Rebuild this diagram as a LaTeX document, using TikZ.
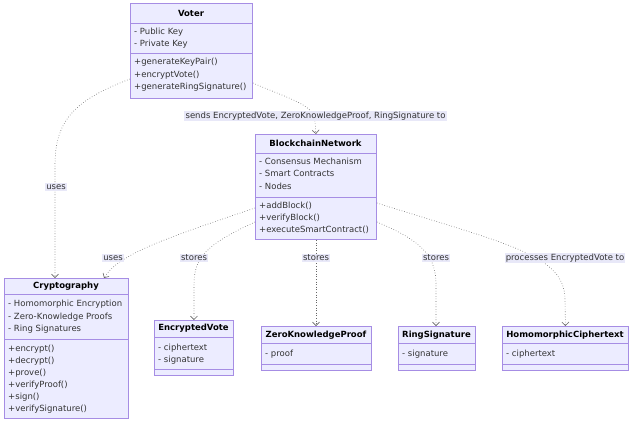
\documentclass[tikz,border=0pt]{standalone}
\usepackage{fontspec}
\setmainfont{DejaVu Sans}
\usetikzlibrary{arrows.meta,calc}
\definecolor{boxfill}{HTML}{ECECFF}
\definecolor{boxline}{HTML}{A68DE4}
\definecolor{txt}{HTML}{333333}
\definecolor{edgec}{HTML}{666666}
\definecolor{lblbg}{HTML}{E8E8F8}
\tikzset{
  cls/.style={draw=boxline, fill=boxfill, line width=0.9pt, inner sep=0pt, anchor=north west},
  divider/.style={draw=boxline, line width=0.9pt},
  ttl/.style={font=\fontsize{8.5}{10}\selectfont\bfseries, inner sep=0pt, text=black},
  itm/.style={font=\fontsize{8.5}{10}\selectfont, inner sep=0pt, text=txt, anchor=mid west},
  rel/.style={draw=edgec, dotted, line width=0.6pt, -{Straight Barb[length=3.5pt,width=7pt]}},
  lbl/.style={font=\fontsize{8.5}{10}\selectfont, fill=lblbg, inner sep=1.2pt, text=txt}
}
\begin{document}
\begin{tikzpicture}[x=1pt,y=-1pt]
\useasboundingbox (0,0) rectangle (640,429);
% ---------- Voter
\node[cls, minimum width=122pt, minimum height=95pt] (voter) at (130,3) {};
\draw[divider] (130,23) -- (252,23);
\draw[divider] (130,53) -- (252,53);
\node[ttl] (voterT) at (191,13) {Voter};
\node[itm] (voterA1) at (134,32) {- Public Key};
\node[itm] (voterA2) at (134,44) {- Private Key};
\node[itm] (voterM1) at (134,62) {+generateKeyPair()};
\node[itm] (voterM2) at (134,74.5) {+encryptVote()};
\node[itm] (voterM3) at (134,87) {+generateRingSignature()};
% ---------- BlockchainNetwork
\node[cls, minimum width=121pt, minimum height=105pt] (bn) at (255,134) {};
\draw[divider] (255,153) -- (376,153);
\draw[divider] (255,197) -- (376,197);
\node[ttl] (bnT) at (315.5,143) {BlockchainNetwork};
\node[itm] (bnA1) at (259,162) {- Consensus Mechanism};
\node[itm] (bnA2) at (259,174) {- Smart Contracts};
\node[itm] (bnA3) at (259,186.5) {- Nodes};
\node[itm] (bnM1) at (259,205.5) {+addBlock()};
\node[itm] (bnM2) at (259,217.5) {+verifyBlock()};
\node[itm] (bnM3) at (259,230) {+executeSmartContract()};
% ---------- Cryptography
\node[cls, minimum width=124pt, minimum height=140pt] (crypto) at (4,278) {};
\draw[divider] (4,294) -- (128,294);
\draw[divider] (4,339) -- (128,339);
\node[ttl] (cryptoT) at (66,286) {Cryptography};
\node[itm] (cryptoA1) at (8,304) {- Homomorphic Encryption};
\node[itm] (cryptoA2) at (8,316.5) {- Zero-Knowledge Proofs};
\node[itm] (cryptoA3) at (8,329) {- Ring Signatures};
\node[itm] (cryptoM1) at (8,349) {+encrypt()};
\node[itm] (cryptoM2) at (8,361) {+decrypt()};
\node[itm] (cryptoM3) at (8,373) {+prove()};
\node[itm] (cryptoM4) at (8,385) {+verifyProof()};
\node[itm] (cryptoM5) at (8,397) {+sign()};
\node[itm] (cryptoM6) at (8,409) {+verifySignature()};
% ---------- EncryptedVote
\node[cls, minimum width=79pt, minimum height=55pt] (ev) at (154,320) {};
\draw[divider] (154,337) -- (233,337);
\draw[divider] (154,369) -- (233,369);
\node[ttl] (evT) at (193.5,328) {EncryptedVote};
\node[itm] (evA1) at (158,348) {- ciphertext};
\node[itm] (evA2) at (158,360) {- signature};
% ---------- ZeroKnowledgeProof
\node[cls, minimum width=110pt, minimum height=44pt] (zkp) at (261,326) {};
\draw[divider] (261,343) -- (371,343);
\draw[divider] (261,364) -- (371,364);
\node[ttl] (zkpT) at (316,335) {ZeroKnowledgeProof};
\node[itm] (zkpA1) at (265,354) {- proof};
% ---------- RingSignature
\node[cls, minimum width=77pt, minimum height=44pt] (rs) at (398,326) {};
\draw[divider] (398,343) -- (475,343);
\draw[divider] (398,364) -- (475,364);
\node[ttl] (rsT) at (436.5,335) {RingSignature};
\node[itm] (rsA1) at (402,354) {- signature};
% ---------- HomomorphicCiphertext
\node[cls, minimum width=126pt, minimum height=44pt] (hc) at (502,326) {};
\draw[divider] (502,343) -- (628,343);
\draw[divider] (502,364) -- (628,364);
\node[ttl] (hcT) at (565,335) {HomomorphicCiphertext};
\node[itm] (hcA1) at (506,354) {- ciphertext};
% ---------- relations
\draw[rel] (voter.west |- 0,79) .. controls (75,100) and (55,120) .. (55,165) -- (crypto.north west -| 55,0);
\node[lbl] (l1) at (56,187) {uses};
\draw[rel] (voter.east |- 0,83) .. controls (292,100) and (315,105) .. (315,122) -- (bn.north);
\node[lbl] (l2) at (315.5,116) {sends EncryptedVote, ZeroKnowledgeProof, RingSignature to};
\draw[rel] (bn.west |- 0,208) .. controls (160,240) and (118,255) .. (crypto.north west -| 104,0);
\node[lbl] (l3) at (113,258) {uses};
\draw[rel] (bn.west |- 0,222) .. controls (205,245) and (194,258) .. (194,285) -- (ev.north);
\node[lbl] (l4) at (194,258) {stores};
\draw[rel] (bn.south -| 316,0) -- (zkp.north -| 316,0);
\node[lbl] (l5) at (316,258) {stores};
\draw[rel] (bn.east |- 0,222) .. controls (425,242) and (436,258) .. (436,285) -- (rs.north -| 436,0);
\node[lbl] (l6) at (436,258) {stores};
\draw[rel] (bn.east |- 0,203) .. controls (510,245) and (565,255) .. (565,300) -- (hc.north);
\node[lbl] (l7) at (565,258) {processes EncryptedVote to};
\end{tikzpicture}
\end{document}
